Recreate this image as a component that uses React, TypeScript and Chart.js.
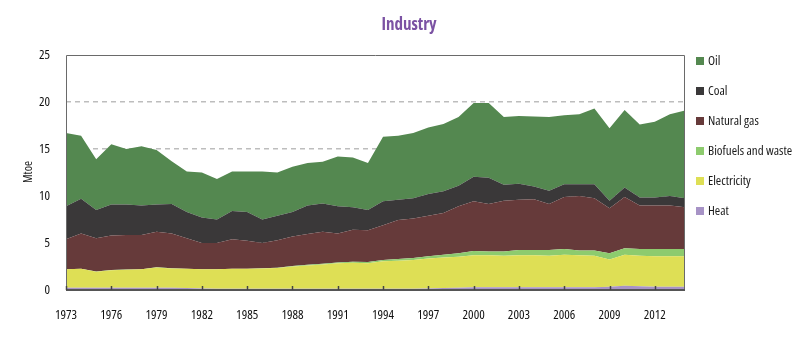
import React, { useEffect, useRef } from "react";
import { Chart, registerables } from "chart.js";

Chart.register(...registerables);

const years: string[] = [
  "1973","1974","1975","1976","1977","1978","1979","1980","1981","1982",
  "1983","1984","1985","1986","1987","1988","1989","1990","1991","1992",
  "1993","1994","1995","1996","1997","1998","1999","2000","2001","2002",
  "2003","2004","2005","2006","2007","2008","2009","2010","2011","2012",
  "2013","2014",
];

const heat = [
  0.25,0.25,0.25,0.25,0.25,0.25,0.25,0.25,0.2,0.15,
  0.12,0.12,0.12,0.12,0.12,0.12,0.12,0.12,0.12,0.12,
  0.12,0.12,0.12,0.12,0.15,0.2,0.25,0.3,0.3,0.3,
  0.3,0.3,0.3,0.3,0.3,0.3,0.35,0.45,0.4,0.35,
  0.35,0.35,
];
const electricity = [
  1.95,2.0,1.7,1.85,1.9,1.95,2.15,2.05,2.05,2.05,
  2.08,2.13,2.13,2.18,2.23,2.38,2.48,2.58,2.73,2.78,
  2.73,2.93,2.98,3.08,3.2,3.25,3.3,3.4,3.4,3.35,
  3.4,3.4,3.35,3.45,3.4,3.35,2.9,3.3,3.25,3.25,
  3.25,3.25,
];
const biofuels = [
  0.02,0.02,0.02,0.02,0.02,0.02,0.02,0.02,0.02,0.02,
  0.02,0.02,0.02,0.02,0.03,0.05,0.08,0.1,0.08,0.1,
  0.12,0.15,0.2,0.2,0.25,0.3,0.35,0.45,0.4,0.45,
  0.55,0.55,0.6,0.6,0.5,0.55,0.65,0.7,0.7,0.75,
  0.75,0.75,
];
const naturalGas = [
  3.18,3.73,3.53,3.68,3.68,3.63,3.78,3.68,3.23,2.78,
  2.78,3.13,2.98,2.68,2.92,3.15,3.27,3.4,3.07,3.4,
  3.38,3.7,4.15,4.2,4.3,4.45,5.0,5.3,5.05,5.4,
  5.35,5.4,4.9,5.55,5.8,5.55,4.8,5.45,4.65,4.65,
  4.65,4.45,
];
const coal = [
  3.5,3.7,3.0,3.3,3.25,3.15,2.9,3.15,2.8,2.7,
  2.5,3.0,3.05,2.5,2.6,2.6,3.05,3.0,2.9,2.4,
  2.15,2.55,2.15,2.15,2.3,2.3,2.2,2.6,2.8,1.7,
  1.7,1.35,1.4,1.35,1.25,1.5,0.8,1.0,0.85,0.85,
  1.0,0.95,
];
const oil = [
  7.8,6.7,5.4,6.4,5.9,6.3,5.8,4.55,4.3,4.8,
  4.3,4.2,4.3,5.1,4.6,4.8,4.5,4.45,5.3,5.3,
  5.0,6.85,6.8,6.95,7.1,7.15,7.3,7.85,7.95,7.2,
  7.2,7.45,7.85,7.35,7.45,8.05,7.7,8.25,7.75,8.05,
  8.7,9.35,
];

const tickYears = ["1973","1976","1979","1982","1985","1988","1991","1994","1997","2000","2003","2006","2009","2012"];
const yTicks = [0, 5, 10, 15, 20, 25];

const FAMILY = "'Open Sans', 'DejaVu Sans', sans-serif";
const COND = (size: number, weight = "normal") => `normal ${weight} condensed ${size}px ${FAMILY}`;

const seriesDefs = [
  { label: "Heat", data: heat, color: "#A793C6" },
  { label: "Electricity", data: electricity, color: "#DEDF55" },
  { label: "Biofuels and waste", data: biofuels, color: "#8DCB6E" },
  { label: "Natural gas", data: naturalGas, color: "#663A3A" },
  { label: "Coal", data: coal, color: "#3A3839" },
  { label: "Oil", data: oil, color: "#548850" },
];

const framePlugin = {
  id: "frame",
  afterDraw(chart: any) {
    const { ctx, chartArea } = chart;
    const { left, right, top, bottom } = chartArea;
    const xs = chart.scales.x;
    ctx.save();
    ctx.strokeStyle = "#6a6a6a";
    ctx.lineWidth = 1;
    ctx.beginPath();
    ctx.moveTo(left + 0.5, bottom);
    ctx.lineTo(left + 0.5, top + 0.5);
    ctx.lineTo(right - 0.5, top + 0.5);
    ctx.lineTo(right - 0.5, bottom);
    ctx.stroke();
    ctx.strokeStyle = "#555";
    ctx.lineWidth = 2;
    ctx.beginPath();
    ctx.moveTo(left, bottom);
    ctx.lineTo(right, bottom);
    ctx.stroke();
    ctx.lineWidth = 1.5;
    ctx.strokeStyle = "#444";
    tickYears.forEach((y) => {
      const idx = years.indexOf(y);
      const px = Math.round(xs.getPixelForValue(idx)) + 0.5;
      ctx.beginPath();
      ctx.moveTo(px, bottom);
      ctx.lineTo(px, bottom - 4);
      ctx.stroke();
    });
    // title
    ctx.fillStyle = "#7B52A3";
    ctx.font = COND(17, "bold");
    ctx.textAlign = "center";
    ctx.textBaseline = "middle";
    ctx.fillText("Industry", 409, 25);
    // y-axis title
    ctx.fillStyle = "#222";
    ctx.font = COND(12);
    ctx.translate(29, 172);
    ctx.rotate(-Math.PI / 2);
    ctx.fillText("Mtoe", 0, 0);
    ctx.restore();

    ctx.save();
    ctx.font = COND(13);
    ctx.textBaseline = "middle";
    ctx.textAlign = "left";
    const legendItems = [...seriesDefs].reverse();
    legendItems.forEach((s, i) => {
      const cy = 61 + i * 30;
      ctx.fillStyle = s.color;
      ctx.fillRect(696, cy - 4, 8, 8);
      ctx.fillStyle = "#1a1a1a";
      ctx.fillText(s.label, 708, cy);
    });
    ctx.restore();
  },
};

export default function App() {
  const ref = useRef<HTMLCanvasElement | null>(null);
  useEffect(() => {
    document.body.style.margin = "0";
    const canvas = ref.current!;
    const chart = new Chart(canvas, {
      type: "line",
      data: {
        labels: years,
        datasets: seriesDefs.map((s, i) => ({
          label: s.label,
          data: s.data,
          backgroundColor: s.color,
          borderColor: s.color,
          borderWidth: 0,
          pointRadius: 0,
          tension: 0,
          fill: i === 0 ? "origin" : "-1",
        })),
      },
      options: {
        responsive: false,
        animation: false,
        layout: { padding: { left: 0, right: 127, top: 55, bottom: 0 } },
        plugins: {
          legend: { display: false },
          tooltip: { enabled: false },
          title: { display: false },
        },
        scales: {
          x: {
            type: "category",
            offset: false,
            afterBuildTicks: (scale: any) => {
              scale.ticks = scale.ticks.filter((t: any) => tickYears.includes(years[t.value]));
            },
            afterFit: (scale: any) => {
              scale.height = 47;
            },
            grid: { display: false },
            border: { display: false },
            ticks: {
              autoSkip: false,
              maxRotation: 0,
              color: "#111",
              font: { family: FAMILY, size: 13, style: "normal", weight: "normal condensed" },
              padding: 9,
            },
          },
          y: {
            stacked: true,
            min: 0,
            max: 25,
            afterFit: (scale: any) => {
              scale.width = 66;
            },
            afterBuildTicks: (scale: any) => {
              scale.ticks = yTicks.map((v) => ({ value: v }));
            },
            grid: {
              color: (c: any) => (c.tick && (c.tick.value === 0 || c.tick.value === 25) ? "rgba(0,0,0,0)" : "#bdbdbd"),
              lineWidth: 1.5,
              drawTicks: false,
            },
            border: { display: false, dash: [5, 4] },
            ticks: {
              color: "#111",
              font: { family: FAMILY, size: 13, style: "normal", weight: "normal condensed" },
              padding: 16,
            },
          },
        },
      },
      plugins: [framePlugin],
    } as any);
    return () => chart.destroy();
  }, []);
  return (
    <div style={{ width: 812, height: 337 }}>
      <canvas ref={ref} width={812} height={337} style={{ display: "block" }} />
    </div>
  );
}
